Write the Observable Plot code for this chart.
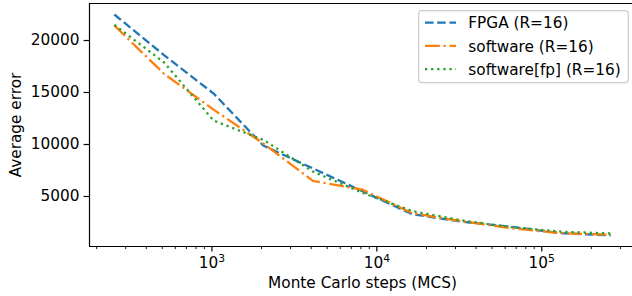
<!DOCTYPE html>
<html><head><meta charset="utf-8">
<script src="https://cdn.jsdelivr.net/npm/d3@7"></script>
<script src="https://cdn.jsdelivr.net/npm/@observablehq/plot@0.6"></script>
<style>
body{margin:0;background:#fff;}
#wrap{position:relative;width:632px;height:296px;font-family:"DejaVu Sans";}
</style>
</head><body>
<div id="wrap"></div>
<script>
const steps = [256, 512, 1024, 2048, 4096, 8192, 16384, 32768, 65536, 131072, 262144];
const fpga = [22500, 18600, 14900, 9900, 7700, 5500, 3300, 2580, 2080, 1470, 1260];
const software = [21450, 16800, 13350, 10100, 6500, 5650, 3400, 2620, 1950, 1470, 1330];
const softwareFp = [21500, 17900, 12300, 10450, 7400, 5350, 3600, 2700, 2050, 1620, 1440];
const seriesNames = ["FPGA (R=16)", "software (R=16)", "software[fp] (R=16)"];
const colors = ["#1f77b4", "#ff7f0e", "#2ca02c"];
const dashes = ["8.5,3.7", "14.8,3.7,2.3,3.7", "2.3,3.8"];
const yTicks = [5000, 10000, 15000, 20000];
const xMajor = [1e3, 1e4, 1e5];
const xMinor = [200,300,400,500,600,700,800,900,2000,3000,4000,5000,6000,7000,8000,9000,20000,30000,40000,50000,60000,70000,80000,90000,200000,300000];

const FS = 15.3;
const LW = 2.3;
const xDomain = [181, 355000];
const yDomain = [192, 23558];
const seriesValues = [fpga, software, softwareFp];
const rows = seriesValues.map(vals => steps.map((s, i) => ({x: s, y: vals[i]})));

const lines = rows.map((r, k) => Plot.line(r, {x: "x", y: "y", stroke: colors[k], strokeWidth: LW, strokeDasharray: dashes[k], strokeLinecap: "butt", strokeLinejoin: "round"}));

const chart = Plot.plot({
  width: 632, height: 296,
  marginLeft: 89, marginRight: 0, marginTop: 3, marginBottom: 50,
  style: {fontFamily: "DejaVu Sans", fontSize: FS + "px", background: "#fff", color: "#000"},
  x: {type: "log", domain: xDomain},
  y: {domain: yDomain},
  marks: [
    Plot.axisY(yTicks, {tickSize: 5.4, tickPadding: 4.6, strokeWidth: 1.2, label: null, tickFormat: d3.format("d"), fontSize: FS}),
    Plot.axisX(xMinor, {tickSize: 3.1, strokeWidth: 0.9, label: null, tickFormat: () => ""}),
    Plot.axisX(xMajor, {tickSize: 5.4, tickPadding: 5.2, strokeWidth: 1.2, label: null, fontSize: FS,
      tickFormat: d => "10^" + Math.round(Math.log10(d))}),
    ...lines,
    Plot.ruleX([xDomain[0]], {stroke: "#000", strokeWidth: 1.2}),
    Plot.ruleY([yDomain[0], yDomain[1]], {stroke: "#000", strokeWidth: 1.2}),
    Plot.text(["Average error"], {text: d => d, frameAnchor: "left", textAnchor: "middle", lineAnchor: "middle", rotate: -90, dx: -73.4, fontSize: FS, fill: "#000"}),
    Plot.text(["Monte Carlo steps (MCS)"], {text: d => d, frameAnchor: "bottom", textAnchor: "middle", lineAnchor: "middle", dy: 36.1, dx: 1.5, fontSize: FS, fill: "#000"})
  ]
});
// superscript exponents in the x tick labels
d3.select(chart).selectAll("text").each(function() {
  const s = this.textContent;
  if (/^10\^\d$/.test(s)) {
    const [base, exp] = s.split("^");
    this.textContent = base;
    const sp = document.createElementNS("http://www.w3.org/2000/svg", "tspan");
    sp.setAttribute("font-size", (FS * 0.7).toFixed(2));
    sp.setAttribute("dy", "-0.55em");
    sp.textContent = exp;
    this.appendChild(sp);
  }
});
const wrap = document.getElementById("wrap");
wrap.appendChild(chart);

// legend overlay
const ns = "http://www.w3.org/2000/svg";
const lg = document.createElementNS(ns, "svg");
lg.setAttribute("width", 632); lg.setAttribute("height", 296);
lg.style.position = "absolute"; lg.style.left = "0"; lg.style.top = "0";
const box = document.createElementNS(ns, "rect");
box.setAttribute("x", 418.7); box.setAttribute("y", 10.7);
box.setAttribute("width", 209.6); box.setAttribute("height", 72);
box.setAttribute("rx", 3); box.setAttribute("fill", "rgba(255,255,255,0.8)");
box.setAttribute("stroke", "#cccccc"); box.setAttribute("stroke-width", 1.2);
lg.appendChild(box);
seriesNames.forEach((name, k) => {
  const cy = 22.7 + k * 23.2;
  const ln = document.createElementNS(ns, "line");
  ln.setAttribute("x1", 425); ln.setAttribute("x2", 456);
  ln.setAttribute("y1", cy); ln.setAttribute("y2", cy);
  ln.setAttribute("stroke", colors[k]); ln.setAttribute("stroke-width", LW);
  ln.setAttribute("stroke-dasharray", dashes[k]);
  lg.appendChild(ln);
  const t = document.createElementNS(ns, "text");
  t.setAttribute("x", 468.3); t.setAttribute("y", cy + 5.6);
  t.setAttribute("font-family", "DejaVu Sans"); t.setAttribute("font-size", FS);
  t.setAttribute("fill", "#000");
  t.textContent = name;
  lg.appendChild(t);
});
wrap.appendChild(lg);
</script>
</body></html>
